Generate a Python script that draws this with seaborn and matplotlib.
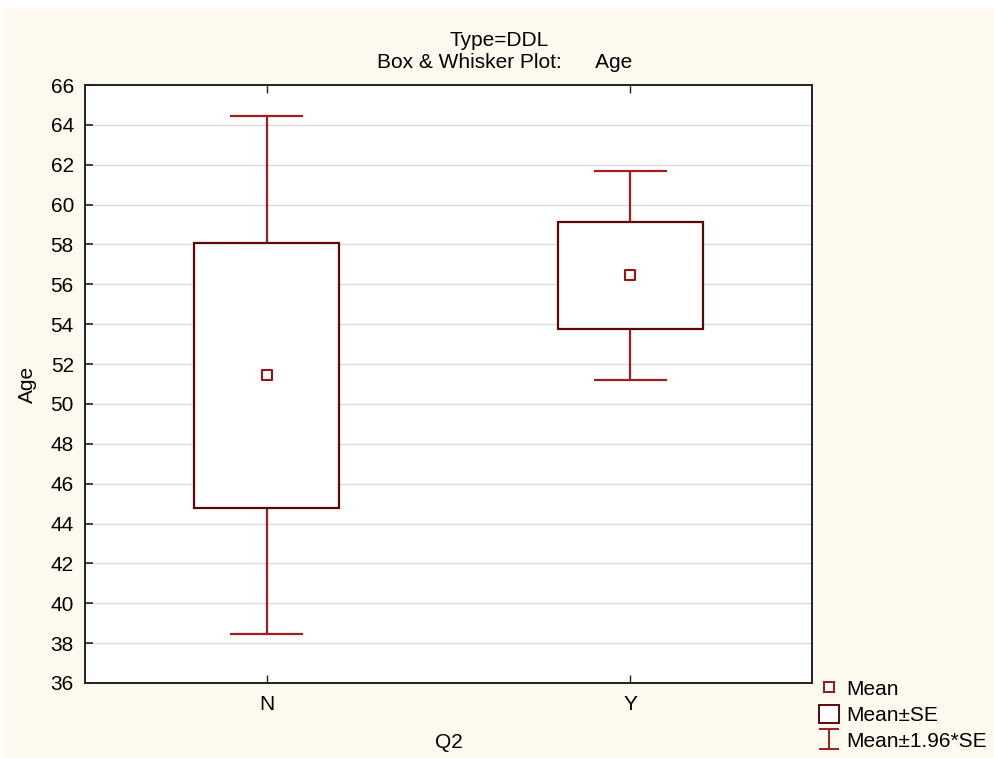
import numpy as np
import pandas as pd
import seaborn as sns
import matplotlib
matplotlib.use("Agg")
import matplotlib.pyplot as plt
from matplotlib.lines import Line2D
from matplotlib.patches import Patch, Rectangle
from matplotlib.path import Path

# Summary statistics of Age by Q2 (Type=DDL)
groups = ["N", "Y"]
means = [51.45, 56.45]
se_low = [44.80, 53.78]
se_high = [58.05, 59.12]
ci_low = [38.45, 51.20]
ci_high = [64.43, 61.70]
y_ticks = list(range(36, 67, 2))

df = pd.DataFrame({"Q2": groups, "Age": means,
                   "se_low": se_low, "se_high": se_high,
                   "ci_low": ci_low, "ci_high": ci_high})

sns.set_theme(style="white")
plt.rcParams["font.family"] = ["Liberation Sans", "DejaVu Sans"]
plt.rcParams["text.color"] = "black"
plt.rcParams["axes.labelcolor"] = "black"

FS = 15
BG = "#FFFAF0"
BOX_EDGE = "#5A0808"
WHISK = "#A01E1E"
MEAN_C = "#9A1414"

fig = plt.figure(figsize=(9.95, 7.58), dpi=100, facecolor="white")
fig.patches.append(Rectangle((3 / 995, 0), 1 - 3 / 995, 1 - 8 / 758,
                             transform=fig.transFigure, facecolor=BG,
                             edgecolor="none", zorder=-10))
ax = fig.add_axes([85 / 995, 1 - 683 / 758, 727 / 995, 598 / 758])
ax.set_facecolor("white")

pos = np.arange(len(groups))
box_w = 0.4
cap_w = 0.2

# whiskers: mean ± 1.96*SE
ax.vlines(pos, df["se_high"], df["ci_high"], color=WHISK, lw=1.6, zorder=3)
ax.vlines(pos, df["ci_low"], df["se_low"], color=WHISK, lw=1.6, zorder=3)
ax.hlines(df["ci_high"], pos - cap_w / 2, pos + cap_w / 2, color=WHISK, lw=1.6, zorder=3)
ax.hlines(df["ci_low"], pos - cap_w / 2, pos + cap_w / 2, color=WHISK, lw=1.6, zorder=3)

# boxes: mean ± SE
ax.bar(pos, df["se_high"] - df["se_low"], bottom=df["se_low"], width=box_w,
       facecolor="white", edgecolor=BOX_EDGE, linewidth=1.6, zorder=4)

# mean markers
sns.scatterplot(data=df, x="Q2", y="Age", ax=ax, marker="s", s=45,
                facecolor="white", edgecolor=MEAN_C, linewidth=1.5, zorder=5,
                legend=False)

ax.set_xlim(-0.5, 1.5)
ax.set_ylim(36, 66)
ax.set_xticks(pos)
ax.set_xticklabels(groups)
ax.set_yticks(y_ticks)
ax.yaxis.grid(True, color="#DCDCDC", lw=1.0)
ax.set_axisbelow(True)

for s in ax.spines.values():
    s.set_color("#222222")
    s.set_linewidth(1.4)

ax.tick_params(axis="y", direction="in", length=6, width=1.2, color="#222222",
               labelsize=FS, pad=8, labelcolor="black", left=True)
ax.tick_params(axis="x", direction="in", length=6, width=1.0, color="#222222",
               labelsize=FS, pad=9, labelcolor="black", bottom=True, top=True)

ax.set_xlabel("Q2", fontsize=FS, labelpad=13)
ax.set_ylabel("Age", fontsize=FS, labelpad=10)

fig.text(0.502, 1 - 41 / 758, "Type=DDL", ha="center", va="center", fontsize=FS)
fig.text(0.507, 1 - 62 / 758, "Box & Whisker Plot:      Age", ha="center",
         va="center", fontsize=FS)

# legend
ibeam = Path([(-1, 1), (1, 1), (0, 1), (0, -1), (-1, -1), (1, -1)],
             [Path.MOVETO, Path.LINETO, Path.MOVETO, Path.LINETO,
              Path.MOVETO, Path.LINETO])
handles = [
    Line2D([], [], ls="none", marker="s", markersize=7, markerfacecolor="white",
           markeredgecolor=MEAN_C, markeredgewidth=1.4),
    Patch(facecolor="white", edgecolor=BOX_EDGE, linewidth=1.4),
    Line2D([], [], ls="none", marker=ibeam, markersize=15, markerfacecolor="none",
           markeredgecolor=WHISK, markeredgewidth=1.4),
]
labels = ["Mean", "Mean\u00b1SE", "Mean\u00b11.96*SE"]
fig.legend(handles, labels, loc="upper left",
           bbox_to_anchor=(819 / 995, 1 - 679 / 758), frameon=False,
           fontsize=FS, handlelength=0.95, handleheight=1.0, handletextpad=0.35,
           labelspacing=0.25, borderpad=0, borderaxespad=0)

fig.savefig("out.png", dpi=100, facecolor="white")
